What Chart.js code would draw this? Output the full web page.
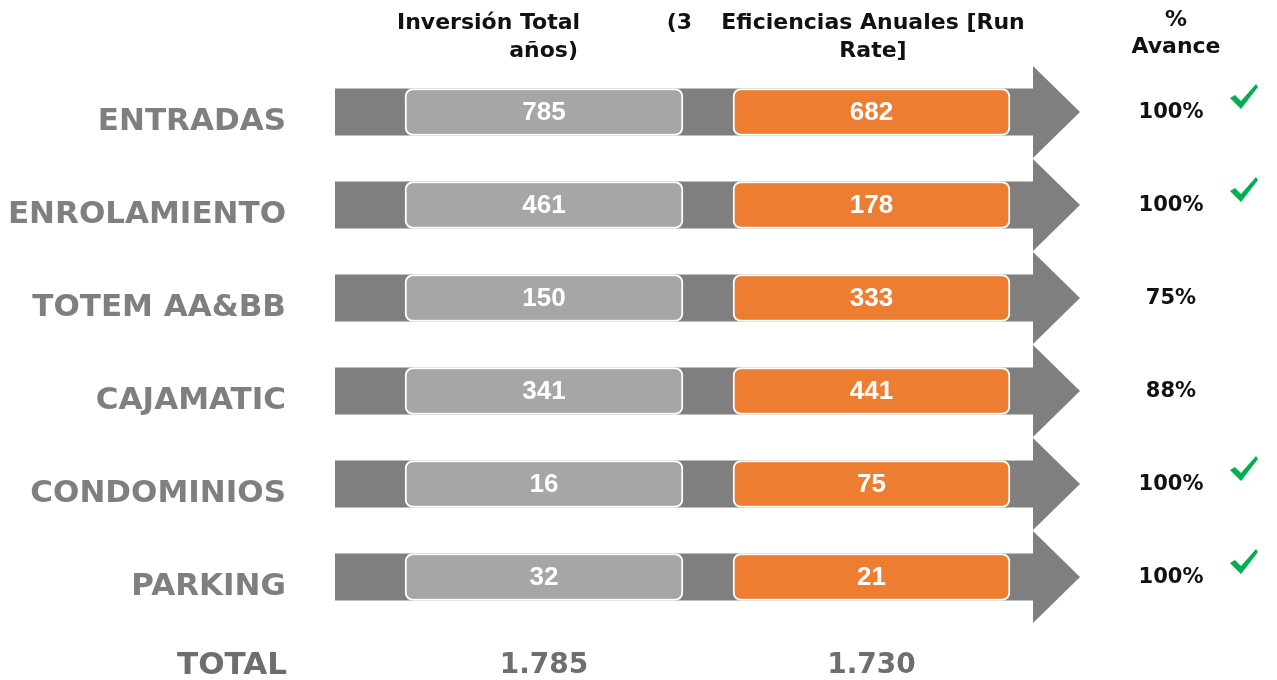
<!DOCTYPE html>
<html>
<head>
<meta charset="utf-8">
<script src="https://cdn.jsdelivr.net/npm/chart.js@4.4.1/dist/chart.umd.min.js"></script>
<style>
  html, body { margin: 0; padding: 0; background: #fff; }
  #wrap { width: 1277px; height: 680px; position: relative; }
</style>
</head>
<body>
<div id="wrap"><canvas id="myChart"></canvas></div>
<script>
// Data
const categories = ['ENTRADAS', 'ENROLAMIENTO', 'TOTEM AA&BB', 'CAJAMATIC', 'CONDOMINIOS', 'PARKING', 'TOTAL'];
const inversion = [785, 461, 150, 341, 16, 32];      // Inversión Total (3 años)
const eficiencias = [682, 178, 333, 441, 75, 21];    // Eficiencias Anuales [Run Rate]
const avance = [100, 100, 75, 88, 100, 100];         // % Avance

const rows = inversion.length;

// thousands separator with a dot
function formatTotal(value) {
    return value.toString().replace(/\B(?=(\d{3})+(?!\d))/g, '.');
}
const totalInversion = inversion.reduce((a, b) => a + b, 0);
const totalEficiencias = eficiencias.reduce((a, b) => a + b, 0);

// segment widths of the arrow (layout only, in px of the x scale)
const LEAD = 70, BOX1 = 278, GAP = 50, BOX2 = 277;
const fill = (w) => inversion.map(() => w);

const DARK = '#7f7f7f';
const LIGHT = '#a6a6a6';
const ORANGE = '#ed7d31';
const LABEL_FONT = 'bold 31px "DejaVu Sans", sans-serif';

// draws the dark arrow band behind the boxes
const arrowPlugin = {
    id: 'arrows',
    beforeDatasetsDraw(chart) {
        const { ctx, chartArea, scales } = chart;
        const headW = 47;
        ctx.save();
        ctx.fillStyle = DARK;
        for (let i = 0; i < rows; i++) {
            const y = scales.y.getPixelForValue(i);
            ctx.fillRect(chartArea.left, y - 23.5, chartArea.right - headW - chartArea.left, 47);
            ctx.beginPath();
            ctx.moveTo(chartArea.right - headW, y - 46);
            ctx.lineTo(chartArea.right, y);
            ctx.lineTo(chartArea.right - headW, y + 46);
            ctx.closePath();
            ctx.fill();
        }
        ctx.restore();
    }
};

// values, totals, % avance and headers
const textPlugin = {
    id: 'texts',
    afterDatasetsDraw(chart) {
        const { ctx, scales } = chart;
        // the totals row sits a little closer than the others
        const totalY = scales.y.getPixelForValue(rows) - 4;
        ctx.save();
        ctx.textBaseline = 'middle';

        // TOTAL row label
        ctx.textAlign = 'right';
        ctx.fillStyle = '#6e6e6e';
        ctx.font = LABEL_FONT;
        ctx.fillText(categories[rows], 287, totalY);

        ctx.textAlign = 'center';
        [[1, inversion], [3, eficiencias]].forEach(([di, values]) => {
            const meta = chart.getDatasetMeta(di);
            meta.data.forEach((bar, i) => {
                ctx.fillStyle = '#ffffff';
                ctx.font = 'bold 26px "Liberation Sans Narrow", "Liberation Sans", sans-serif';
                ctx.fillText(values[i], (bar.x + bar.base) / 2, bar.y + 1);
            });
            // totals
            const first = meta.data[0];
            ctx.fillStyle = '#6e6e6e';
            ctx.font = 'bold 28px "DejaVu Sans", sans-serif';
            const total = di === 1 ? totalInversion : totalEficiencias;
            ctx.fillText(formatTotal(total), (first.x + first.base) / 2, totalY);
        });

        // % avance
        avance.forEach((v, i) => {
            const y = scales.y.getPixelForValue(i);
            ctx.fillStyle = '#111111';
            ctx.font = 'bold 21px "DejaVu Sans", sans-serif';
            ctx.fillText(v + '%', 1171, y + 1);
            if (v === 100) {
                // green tick
                ctx.fillStyle = '#00b050';
                ctx.beginPath();
                ctx.moveTo(1230, y - 14);
                ctx.lineTo(1235, y - 17);
                ctx.lineTo(1241, y - 11);
                ctx.lineTo(1256, y - 28);
                ctx.lineTo(1258, y - 25);
                ctx.lineTo(1241, y - 3);
                ctx.closePath();
                ctx.fill();
            }
        });

        // column headers
        ctx.fillStyle = '#111111';
        ctx.font = 'bold 22px "DejaVu Sans", sans-serif';
        ctx.textAlign = 'left';
        ctx.fillText('Inversión Total', 397, 23);
        ctx.textAlign = 'right';
        ctx.fillText('(3', 692, 23);
        ctx.fillText('años)', 578, 51);
        ctx.textAlign = 'center';
        ctx.fillText('Eficiencias Anuales [Run', 873, 23);
        ctx.fillText('Rate]', 873, 51);
        ctx.fillText('%', 1176, 20);
        ctx.fillText('Avance', 1176, 47);
        ctx.restore();
    }
};

const ctx = document.getElementById('myChart').getContext('2d');

const boxStyle = { borderColor: '#ffffff', borderWidth: 2, borderRadius: 8, borderSkipped: false };

const myChart = new Chart(ctx, {
    type: 'bar',
    data: {
        labels: categories,
        datasets: [
            { stack: 'a', data: fill(LEAD), backgroundColor: 'rgba(0,0,0,0)', borderWidth: 0 },
            { stack: 'a', data: fill(BOX1), backgroundColor: LIGHT, ...boxStyle },
            { stack: 'b', data: fill(LEAD + BOX1 + GAP), backgroundColor: 'rgba(0,0,0,0)', borderWidth: 0 },
            { stack: 'b', data: fill(BOX2), backgroundColor: ORANGE, ...boxStyle }
        ]
    },
    options: {
        indexAxis: 'y',
        responsive: true,
        maintainAspectRatio: false,
        animation: false,
        layout: { padding: { top: 112, bottom: 10, right: 197, left: 0 } },
        datasets: { bar: { barThickness: 47, clip: false, grouped: false } },
        scales: {
            x: { stacked: true, min: 0, max: 745, display: false },
            y: {
                stacked: true,
                offset: false,
                grid: { display: false, drawTicks: false },
                border: { display: false },
                afterFit(scale) {
                    scale.width = 335;
                    // ticks.padding is only meant for the horizontal gap
                    scale.paddingTop = 0;
                    scale.paddingBottom = 0;
                },
                ticks: {
                    padding: 49,
                    labelOffset: 10,
                    color: DARK,
                    font: { family: '"DejaVu Sans", sans-serif', size: 31, weight: 'bold' },
                    // TOTAL is drawn with the totals row
                    callback: (value, index) => index < rows ? categories[index] : ''
                }
            }
        },
        plugins: {
            legend: { display: false },
            tooltip: { enabled: false }
        }
    },
    plugins: [arrowPlugin, textPlugin]
});
</script>
</body>
</html>
